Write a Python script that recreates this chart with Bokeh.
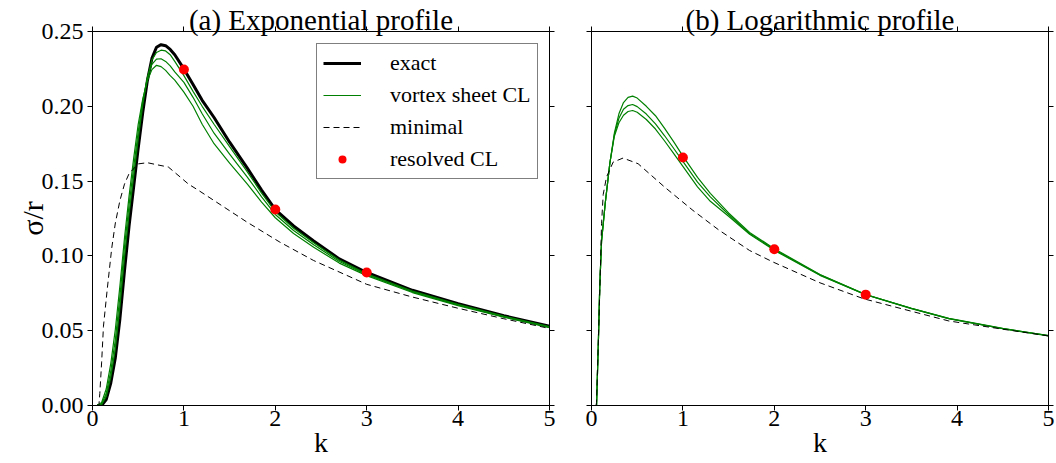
from bokeh.plotting import figure
from bokeh.layouts import row
from bokeh.models import (LinearAxis, FixedTicker, NumeralTickFormatter, Range1d,
                          Legend, LegendItem)
from bokeh.embed import file_html
from bokeh.resources import INLINE

FONT = "Liberation Serif"

# ---------------- data: panel (a) exponential profile ----------------
k_a = [0.05, 0.10, 0.15, 0.20, 0.25, 0.30, 0.35, 0.40, 0.45, 0.50, 0.55, 0.60,
       0.65, 0.70, 0.75, 0.80, 0.85, 0.90, 1.0, 1.1, 1.2, 1.33, 1.5, 1.69,
       1.85, 2.0, 2.2, 2.42, 2.7, 3.0, 3.5, 4.0, 4.5, 5.0]
exact_a = [0.000, 0.000, 0.004, 0.015, 0.032, 0.058, 0.090, 0.120, 0.146, 0.172,
           0.196, 0.217, 0.232, 0.2395, 0.2412, 0.2405, 0.2380, 0.2345, 0.2250,
           0.2145, 0.2040, 0.1925, 0.1760, 0.1590, 0.1440, 0.1310, 0.1200,
           0.1100, 0.0980, 0.0889, 0.0770, 0.0680, 0.0600, 0.0530]
vortex_a1 = [0.000, 0.0005, 0.006, 0.019, 0.038, 0.066, 0.099, 0.128, 0.153, 0.178,
             0.201, 0.219, 0.231, 0.236, 0.2375, 0.2370, 0.2345, 0.2300, 0.2205,
             0.2100, 0.2000, 0.1880, 0.1730, 0.1565, 0.1420, 0.1295, 0.1185,
             0.1088, 0.0972, 0.0881, 0.0765, 0.0676, 0.0597, 0.0527]
vortex_a2 = [0.000, 0.001, 0.008, 0.023, 0.044, 0.073, 0.106, 0.134, 0.159, 0.183,
             0.204, 0.219, 0.228, 0.2315, 0.2318, 0.2300, 0.2270, 0.2230, 0.2160,
             0.2060, 0.1950, 0.1820, 0.1680, 0.1530, 0.1395, 0.1277, 0.1170,
             0.1074, 0.0963, 0.0875, 0.0760, 0.0672, 0.0594, 0.0524]
vortex_a3 = [0.000, 0.002, 0.011, 0.028, 0.051, 0.080, 0.112, 0.140, 0.165, 0.188,
             0.205, 0.217, 0.2245, 0.2274, 0.2265, 0.2240, 0.2205, 0.2175, 0.2095,
             0.2000, 0.1880, 0.1750, 0.1620, 0.1483, 0.1360, 0.1255, 0.1150,
             0.1058, 0.0952, 0.0868, 0.0755, 0.0668, 0.0591, 0.0521]
min_a_k = [0.05, 0.07, 0.08, 0.10, 0.12, 0.16, 0.21, 0.25, 0.30, 0.35, 0.40, 0.50,
           0.60, 0.70, 0.83, 0.96, 1.05, 1.16, 1.33, 1.69, 2.05, 2.42, 3.0, 3.5,
           4.0, 4.5, 5.0]
minimal_a = [0.0, 0.0, 0.008, 0.029, 0.053, 0.077, 0.105, 0.122, 0.137, 0.148,
             0.155, 0.1615, 0.1623, 0.161, 0.1594, 0.1527, 0.148, 0.1438, 0.137,
             0.1226, 0.1092, 0.0969, 0.081, 0.0725, 0.0650, 0.0580, 0.0515]

# ---------------- data: panel (b) logarithmic profile ----------------
k_b = [0.05, 0.055, 0.075, 0.09, 0.11, 0.15, 0.20, 0.25, 0.30, 0.35, 0.40, 0.45,
       0.50, 0.60, 0.70, 0.80, 0.90, 1.0, 1.16, 1.3, 1.5, 1.73, 2.0, 2.5, 3.0,
       3.5, 3.91, 4.5, 5.0]
vortex_b1 = [0.0, 0.0, 0.042, 0.079, 0.110, 0.135, 0.1616, 0.182, 0.195, 0.2025,
             0.2060, 0.2068, 0.2055, 0.2000, 0.1937, 0.1852, 0.1762, 0.1667,
             0.1525, 0.1418, 0.1287, 0.1157, 0.1048, 0.0876, 0.0742, 0.0650,
             0.0582, 0.0515, 0.0468]
vortex_b2 = [0.0, 0.0, 0.042, 0.079, 0.110, 0.135, 0.1616, 0.181, 0.192, 0.198,
             0.2005, 0.2012, 0.1998, 0.1948, 0.1883, 0.1803, 0.1718, 0.1632,
             0.1493, 0.1395, 0.1277, 0.1150, 0.1042, 0.0873, 0.0741, 0.0649,
             0.0581, 0.0514, 0.0467]
vortex_b3 = [0.0, 0.0, 0.042, 0.079, 0.110, 0.135, 0.1616, 0.180, 0.189, 0.194,
             0.1965, 0.1972, 0.1960, 0.1912, 0.1848, 0.1768, 0.1683, 0.1598,
             0.1462, 0.1365, 0.1265, 0.1145, 0.1037, 0.0870, 0.0740, 0.0648,
             0.0580, 0.0513, 0.0466]
min_b_k = [0.05, 0.055, 0.073, 0.092, 0.11, 0.128, 0.164, 0.237, 0.345, 0.51, 0.80,
           1.11, 1.4, 1.73, 1.99, 2.5, 2.98, 3.5, 3.91, 4.5, 5.0]
minimal_b = [0.0, 0.002, 0.039, 0.079, 0.1215, 0.141, 0.1527, 0.1627, 0.1654,
             0.1616, 0.146, 0.1304, 0.117, 0.1036, 0.0958, 0.0820, 0.0713, 0.0630,
             0.0565, 0.0510, 0.0465]

resolved_k = [1, 2, 3]
resolved_a = [0.2246, 0.1310, 0.0889]
resolved_b = [0.1658, 0.1045, 0.0741]

x_ticks = [0, 1, 2, 3, 4, 5]
y_ticks = [0.0, 0.05, 0.10, 0.15, 0.20, 0.25]

GREEN = "#008000"


def style_axis(ax, ticks, show_labels, standoff):
    ax.ticker = FixedTicker(ticks=ticks)
    ax.major_tick_in = 0
    ax.major_tick_out = 5
    ax.minor_tick_in = 0
    ax.minor_tick_out = 0
    ax.axis_line_color = "black"
    ax.axis_line_width = 1
    ax.major_tick_line_color = "black"
    ax.major_label_text_font = FONT
    if show_labels:
        ax.major_label_text_color = "black"
        ax.major_label_text_font_size = "24px"
        ax.major_label_standoff = standoff
    else:
        ax.major_label_text_color = None
        ax.major_label_text_font_size = "0px"
        ax.major_label_standoff = 0


def set_label(ax, text, size, standoff):
    ax.axis_label = text
    ax.axis_label_text_font = FONT
    ax.axis_label_text_font_style = "normal"
    ax.axis_label_text_font_size = size
    ax.axis_label_text_color = "black"
    ax.axis_label_standoff = standoff


def make_panel(width, bl, br, title, show_ylabels):
    p = figure(width=width, height=463, output_backend="svg", toolbar_location=None,
               x_range=Range1d(0, 5), y_range=Range1d(0, 0.25),
               min_border_left=bl, min_border_right=br,
               min_border_top=31, min_border_bottom=58)
    p.xgrid.visible = False
    p.ygrid.visible = False
    p.outline_line_color = "black"
    p.outline_line_width = 1
    p.background_fill_color = "white"
    p.border_fill_color = "white"

    style_axis(p.xaxis[0], x_ticks, True, 0)
    style_axis(p.yaxis[0], y_ticks, show_ylabels, 4)
    p.yaxis[0].formatter = NumeralTickFormatter(format="0.00")
    set_label(p.xaxis[0], "k", "28px", -2)
    if show_ylabels:
        set_label(p.yaxis[0], "σ/r", "30px", -10)

    top = LinearAxis()
    style_axis(top, x_ticks, False, 0)
    set_label(top, title, "29px", -9)
    p.add_layout(top, "above")
    right = LinearAxis()
    style_axis(right, y_ticks, False, 0)
    p.add_layout(right, "right")
    return p


pa = make_panel(570, 92, 21, "(a) Exponential profile", True)
r_exact = pa.line(k_a, exact_a, line_color="black", line_width=3)
r_v = None
for ys in (vortex_a1, vortex_a2, vortex_a3):
    rr = pa.line(k_a, ys, line_color=GREEN, line_width=1.2)
    if r_v is None:
        r_v = rr
r_min = pa.line(min_a_k, minimal_a, line_color="black", line_width=1, line_dash="6 4")
r_res = pa.scatter(resolved_k, resolved_a, size=10, fill_color="red", line_color=None)

legend = Legend(items=[LegendItem(label="exact", renderers=[r_exact]),
                       LegendItem(label="vortex sheet CL", renderers=[r_v]),
                       LegendItem(label="minimal", renderers=[r_min]),
                       LegendItem(label="resolved CL", renderers=[r_res])],
                location=(224, 226))
legend.border_line_color = "black"
legend.border_line_width = 1
legend.background_fill_color = "white"
legend.background_fill_alpha = 1
legend.label_text_font = FONT
legend.label_text_font_size = "22px"
legend.label_text_color = "black"
legend.glyph_width = 38
legend.glyph_height = 20
legend.label_height = 20
legend.label_standoff = 29
legend.spacing = 6
legend.padding = 6
legend.margin = 0
pa.add_layout(legend)

pb = make_panel(486, 21, 8, "(b) Logarithmic profile", False)
for ys in (vortex_b1, vortex_b2, vortex_b3):
    pb.line(k_b, ys, line_color=GREEN, line_width=1.2)
pb.line(min_b_k, minimal_b, line_color="black", line_width=1, line_dash="6 4")
pb.scatter(resolved_k, resolved_b, size=10, fill_color="red", line_color=None)

layout = row(pa, pb)
open("out.html", "w").write(file_html(layout, INLINE))
